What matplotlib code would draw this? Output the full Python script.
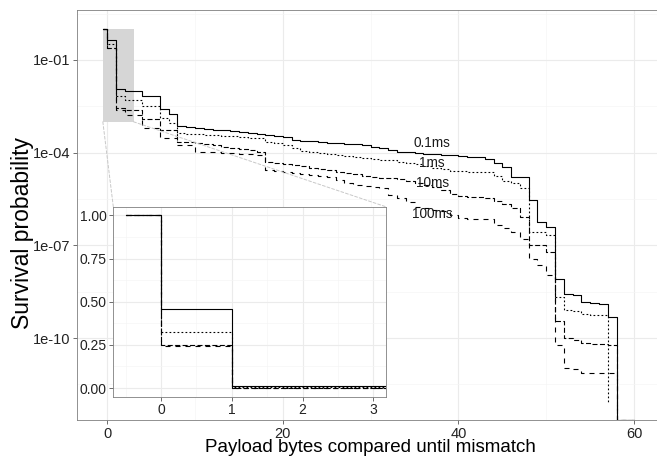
import numpy as np
import matplotlib
matplotlib.use('Agg')
import matplotlib.pyplot as plt
from matplotlib.patches import Rectangle, ConnectionPatch

plt.rcParams['font.family'] = ['Liberation Sans', 'DejaVu Sans']

# payload byte positions (first step starts at -0.5, last zero runs to 60)
payload_bytes = [-0.5] + list(range(0, 59)) + [60]

# log10 survival probability per byte (-inf = zero)
log_p_01ms = [0, -0.337, -1.93, -2.00, -2.00, -2.17, -2.17, -2.60, -2.76, -3.13,
              -3.16, -3.19, -3.22, -3.25, -3.28, -3.30, -3.33, -3.36, -3.39, -3.43,
              -3.46, -3.50, -3.59, -3.61, -3.63, -3.65, -3.67, -3.69, -3.71, -3.73,
              -3.75, -3.80, -3.86, -3.92, -3.97, -3.99, -4.01, -4.03, -4.05, -4.07,
              -4.09, -4.11, -4.13, -4.15, -4.20, -4.34, -4.47, -4.78, -4.80, -5.53,
              -6.25, -6.41, -8.10, -8.58, -8.60, -8.82, -8.86, -8.90, -9.33, -np.inf,
              -np.inf]
log_p_1ms = [0, -0.49, -2.16, -2.29, -2.29, -2.50, -2.50, -2.88, -3.03, -3.37,
             -3.39, -3.41, -3.42, -3.43, -3.45, -3.47, -3.49, -3.51, -3.53, -3.64,
             -3.70, -3.75, -3.85, -3.95, -3.99, -4.02, -4.05, -4.08, -4.11, -4.14,
             -4.16, -4.19, -4.22, -4.25, -4.29, -4.33, -4.36, -4.42, -4.48, -4.54,
             -4.58, -4.60, -4.61, -4.62, -4.63, -4.75, -4.92, -4.97, -5.15, -6.56,
             -6.56, -6.66, -8.68, -9.09, -9.12, -9.22, -9.24, -9.26, -12.10, np.nan,
             np.nan]
log_p_10ms = [0, -0.60, -2.54, -2.62, -2.62, -2.92, -2.92, -3.27, -3.27, -3.64,
              -3.66, -3.68, -3.72, -3.76, -3.80, -3.84, -3.88, -3.92, -3.97, -4.29,
              -4.32, -4.36, -4.40, -4.44, -4.48, -4.52, -4.56, -4.62, -4.66, -4.70,
              -4.74, -4.78, -4.81, -4.83, -4.85, -4.90, -4.98, -5.05, -5.12, -5.20,
              -5.35, -5.40, -5.42, -5.44, -5.46, -5.55, -5.65, -5.80, -6.07, -6.99,
              -7.00, -7.22, -9.44, -10.00, -10.05, -10.17, -10.18, -10.20, -10.22, -np.inf,
              -np.inf]
log_p_100ms = [0, -0.61, -2.62, -2.78, -2.78, -3.21, -3.21, -3.53, -3.53, -3.76,
               -3.76, -3.97, -3.98, -3.99, -4.00, -4.02, -4.03, -4.05, -4.07, -4.55,
               -4.58, -4.62, -4.67, -4.70, -4.73, -4.76, -4.80, -4.88, -4.99, -5.03,
               -5.07, -5.11, -5.14, -5.37, -5.45, -5.60, -5.75, -5.80, -5.85, -5.90,
               -6.00, -6.12, -6.13, -6.14, -6.15, -6.35, -6.45, -6.56, -6.80, -7.45,
               -7.63, -7.96, -10.22, -10.98, -11.00, -11.12, -11.13, -11.13, -11.13, -np.inf,
               -np.inf]

series_names = ['0.1ms', '1ms', '10ms', '100ms']
label_x = [37, 37, 37, 37]
label_y = [2.0e-4, 4.8e-5, 1.05e-5, 1.05e-6]

# highlighted region shown in the inset
zoom_x = (-0.5, 3)
zoom_y = (1e-3, 1)

W, H = 657, 457
fig = plt.figure(figsize=(W / 100, H / 100), dpi=100)

ymin, ymax = 10 ** -12.65, 10 ** 0.618
ax = fig.add_axes([76.5 / W, (H - 420) / H, (664.8 - 76.5) / W, 410 / H])
ax.set_yscale('log')
ax.set_xlim(-3.5, 63.5)
ax.set_ylim(ymin, ymax)

ax_in = fig.add_axes([113.3 / W, (H - 396.7) / H, (385.7 - 113.3) / W, 190 / H])
ax_in.set_xlim(-0.675, 3.175)
ax_in.set_ylim(-0.05, 1.05)

dash_styles = [None, (1.6, 2.0), (4.5, 2.2), (4.5, 4.5)]
all_logs = [log_p_01ms, log_p_1ms, log_p_10ms, log_p_100ms]
xb = np.array(payload_bytes)
for logs, dash in zip(all_logs, dash_styles):
    lp = np.array(logs, dtype=float)
    keep = ~np.isnan(lp)
    p = 10 ** lp[keep]
    xs = xb[keep]
    p_main = np.where(p > 0, p, ymin)
    for a, yy in ((ax, p_main), (ax_in, p)):
        line, = a.step(xs, yy, where='post', color='black', lw=0.8, zorder=3)
        if dash is not None:
            line.set_dashes(dash)

for name, lx, ly in zip(series_names, label_x, label_y):
    ax.text(lx, ly, name, ha='center', va='center', fontsize=9.8, color='#1a1a1a', zorder=4)

ax.add_patch(Rectangle((zoom_x[0], zoom_y[0]), zoom_x[1] - zoom_x[0], zoom_y[1] - zoom_y[0],
                       facecolor='#d6d6d6', edgecolor='none', zorder=1.5))

# main axes styling
ax.set_xticks([0, 20, 40, 60])
ax.set_xticks([10, 30, 50], minor=True)
ax.set_yticks([1e-1, 1e-4, 1e-7, 1e-10])
ax.set_yticklabels(['1e-01', '1e-04', '1e-07', '1e-10'])
ax.set_yticks([10 ** 0.5, 10 ** -2.5, 10 ** -5.5, 10 ** -8.5, 10 ** -11.5], minor=True)
ax.yaxis.set_minor_formatter(plt.NullFormatter())
ax.grid(which='major', color='#ebebeb', lw=0.8, zorder=0)
ax.grid(which='minor', color='#f5f5f5', lw=0.5, zorder=0)
ax.set_axisbelow(True)
ax.tick_params(which='major', length=3.2, width=0.5, color='#333333', labelsize=10.5,
               labelcolor='#222222', pad=1.5)
ax.tick_params(which='minor', length=0)
for s in ax.spines.values():
    s.set_color('#7f7f7f')
    s.set_linewidth(0.6)

# inset styling
ax_in.set_xticks([0, 1, 2, 3])
ax_in.set_xticks([-0.5, 0.5, 1.5, 2.5], minor=True)
ax_in.set_yticks([0, 0.25, 0.5, 0.75, 1.0])
ax_in.set_yticklabels(['0.00', '0.25', '0.50', '0.75', '1.00'])
ax_in.set_yticks([0.125, 0.375, 0.625, 0.875], minor=True)
ax_in.grid(which='major', color='#ebebeb', lw=0.8, zorder=0)
ax_in.grid(which='minor', color='#f5f5f5', lw=0.5, zorder=0)
ax_in.set_axisbelow(True)
ax_in.tick_params(which='major', length=3.2, width=0.5, color='#333333', labelsize=10,
                  labelcolor='#222222', pad=1.5)
ax_in.tick_params(which='minor', length=0)
for s in ax_in.spines.values():
    s.set_color('#7f7f7f')
    s.set_linewidth(0.6)

for xa, xb_ in ((zoom_x[0], 0), (zoom_x[1], 1)):
    con = ConnectionPatch(xyA=(xa, zoom_y[0]), coordsA=ax.transData,
                          xyB=(xb_, 1), coordsB=ax_in.transAxes,
                          color='#c8c8c8', lw=0.7, linestyle=(0, (3, 2)))
    fig.add_artist(con)

fig.text(370 / W, (H - 452) / H, 'Payload bytes compared until mismatch',
         ha='center', va='baseline', fontsize=13.5)
fig.text(23 / W, 1 - 233 / H, 'Survival probability', rotation=90,
         ha='center', va='center', fontsize=16.5)

fig.savefig('out.png', dpi=100)
